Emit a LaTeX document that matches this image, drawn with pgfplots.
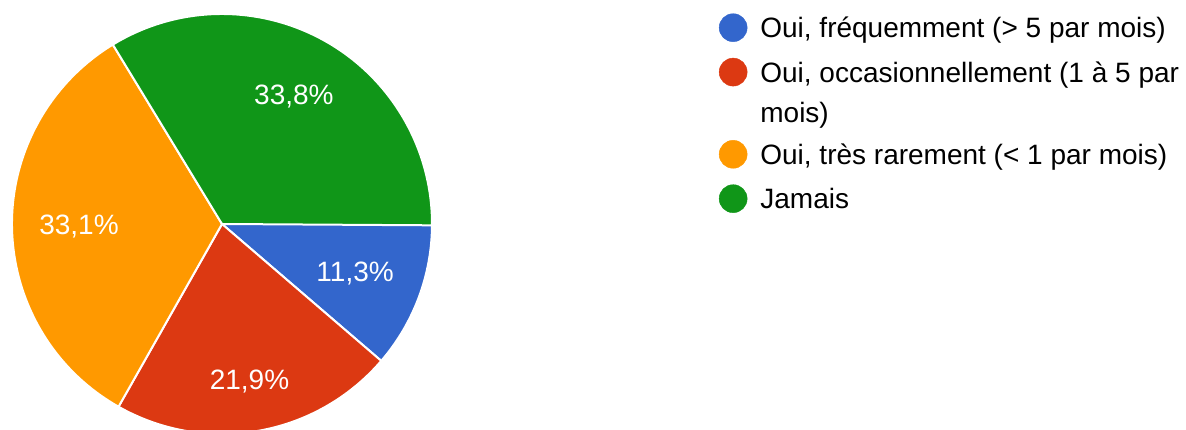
\documentclass[border=0pt]{standalone}
\usepackage{fontspec}
\setmainfont{Liberation Sans}
\usepackage{pgfplots}
\usepackage{pgfplotstable}
\pgfplotsset{compat=1.18}

\definecolor{gblue}{HTML}{3366CC}
\definecolor{gred}{HTML}{DC3912}
\definecolor{gorange}{HTML}{FF9900}
\definecolor{ggreen}{HTML}{109618}
\newcommand\pie{\fontsize{28}{39}\selectfont}

% share in percent, distance of the label from the centre, colour
\pgfplotstableread{
pct  labr color
11.3 142  gblue
21.9 160  gred
33.1 143  gorange
33.8 146  ggreen
}\piedata

\begin{document}
\begin{tikzpicture}
\begin{axis}[
    scale only axis,
    width=1186pt, height=430pt,
    xmin=0, xmax=1186, ymin=0, ymax=430,
    hide axis,
    clip=false,
    legend style={at={(0.6062,0.9686)}, anchor=north west,
      draw=none, fill=none, inner sep=0pt, outer sep=0pt,
      row sep=16pt, column sep=13pt, font=\pie,
      cells={anchor=base west},
      nodes={inner sep=0pt, outer sep=0pt}},
    legend image code/.code={\fill[#1] (14pt,10pt) circle (14pt);},
  ]
  % slices, clockwise from 3 o'clock
  \def\angstart{0}
  \pgfplotsforeachungrouped \i in {0,...,3}{%
    \pgfplotstablegetelem{\i}{pct}\of\piedata \let\pct\pgfplotsretval
    \pgfplotstablegetelem{\i}{labr}\of\piedata \let\labr\pgfplotsretval
    \pgfplotstablegetelem{\i}{color}\of\piedata \let\col\pgfplotsretval
    \pgfmathsetmacro\angend{\angstart-3.6*\pct}
    \pgfmathsetmacro\angmid{(\angstart+\angend)/2}
    \pgfmathsetmacro\xs{222+210*cos(\angstart)}
    \pgfmathsetmacro\ys{206+210*sin(\angstart)}
    \pgfmathsetmacro\xl{222+\labr*cos(\angmid)}
    \pgfmathsetmacro\yl{206+\labr*sin(\angmid)}
    \edef\temp{%
      \noexpand\fill[\col, draw=white, line width=2pt]
        (axis cs:222,206) -- (axis cs:\xs,\ys)
        arc[start angle=\angstart, end angle=\angend, radius=210pt] -- cycle;
      \noexpand\node[white, font=\noexpand\pie] at (axis cs:\xl,\yl)
        {\noexpand\pgfmathprintnumber[assume math mode=true,use comma,fixed,fixed zerofill,precision=1]{\pct}\noexpand\%};
    }%
    \temp
    \global\let\angstart\angend
  }
  \addlegendimage{gblue}
  \addlegendentry{Oui, fréquemment (> 5 par mois)}
  \addlegendimage{gred}
  \addlegendentry{Oui, occasionnellement (1 à 5 par}
  \addlegendimage{empty legend}
  \addlegendentry{mois)}
  \addlegendimage{gorange}
  \addlegendentry{Oui, très rarement (< 1 par mois)}
  \addlegendimage{ggreen}
  \addlegendentry{Jamais}
\end{axis}
\pgfresetboundingbox
\useasboundingbox (0,0) rectangle (1186pt,430pt);
\end{tikzpicture}
\end{document}
